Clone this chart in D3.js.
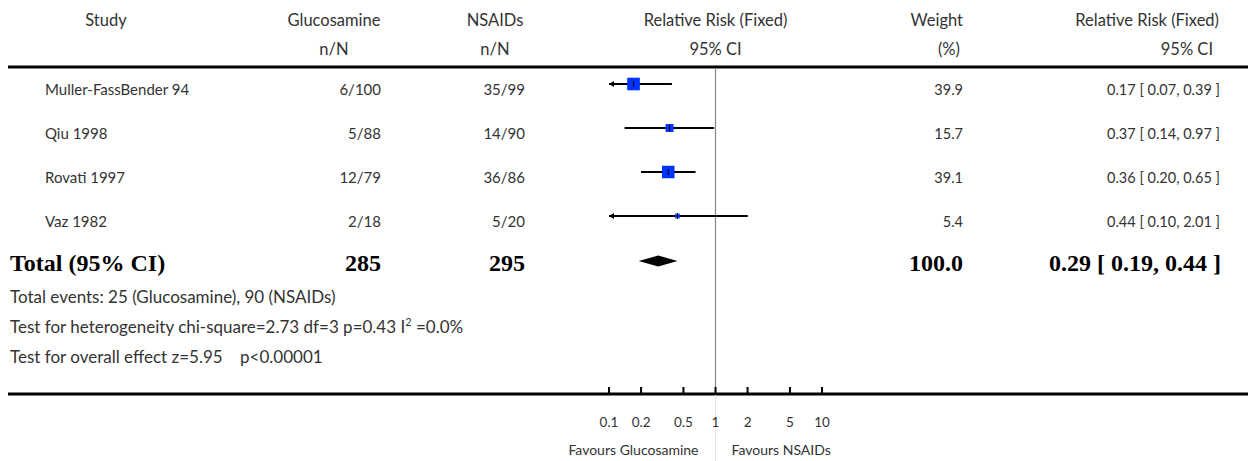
<!DOCTYPE html>
<html>
<head>
<meta charset="utf-8">
<script src="https://cdn.jsdelivr.net/npm/d3@7"></script>
<style>
  html, body { margin: 0; padding: 0; background: #fff; }
  svg { display: block; }
  .txt { font-family: Lato, "Open Sans", sans-serif; fill: #333; white-space: pre; }
  .bold { font-family: "Liberation Serif", "Times New Roman", serif; font-weight: bold; fill: #000; white-space: pre; }
</style>
</head>
<body>
<svg id="chart" width="1248" height="461"></svg>
<script>
// Trials comparing glucosamine with NSAIDs
const studies      = ["Muller-FassBender 94", "Qiu 1998", "Rovati 1997", "Vaz 1982"];
const glucoEvents  = [6, 5, 12, 2];
const glucoTotal   = [100, 88, 79, 18];
const nsaidEvents  = [35, 14, 36, 5];
const nsaidTotal   = [99, 90, 86, 20];
const riskRatio    = [0.17, 0.37, 0.36, 0.44];
const ciLower      = [0.07, 0.14, 0.20, 0.10];
const ciUpper      = [0.39, 0.97, 0.65, 2.01];
const weights      = [39.9, 15.7, 39.1, 5.4];

// Pooled estimate
const pooledRR     = 0.29;
const pooledLower  = 0.19;
const pooledUpper  = 0.44;
const pooledWeight = 100.0;
const pooledGluco  = 285;
const pooledNsaid  = 295;

const axisTicks      = [0.1, 0.2, 0.5, 1, 2, 5, 10];
const axisTickLabels = ["0.1", "0.2", "0.5", "1", "2", "5", "10"];

const headerTop    = ["Study", "Glucosamine", "NSAIDs", "Relative Risk (Fixed)", "Weight", "Relative Risk (Fixed)"];
const headerBottom = ["", "n/N", "n/N", "95% CI", "(%)", "95% CI"];
const footerLines  = [
  "Total events: 25 (Glucosamine), 90 (NSAIDs)",
  "Test for heterogeneity chi-square=2.73 df=3 p=0.43 I",
  "Test for overall effect z=5.95    p<0.00001"
];

const svg = d3.select("#chart");

// Log scale for the relative risk plot
const x = d3.scaleLog().domain([0.1, 10]).range([609, 822]);
const [xMinV, xMaxV] = x.domain();
const side = d3.scaleSqrt().domain([0, 100]).range([0, 20]);

// Row positions
const rowBase = d3.scalePoint().domain(d3.range(studies.length)).range([95, 227]);
const markerOffset = -11;

// Column anchors
const colStudyName = 45;
const colGluco = 381, colNsaid = 525, colWeight = 963, colRR = 1220;

// Header
const hdrX = [106, 334, 495, x(1), 963, 1219];
const hdrAnchor = ["middle", "middle", "middle", "middle", "end", "end"];
const hdrX2 = [106, 334, 495, x(1), 960, 1213];
headerTop.forEach((t, i) => {
  svg.append("text").attr("class", "txt").attr("x", hdrX[i]).attr("y", 26)
    .attr("text-anchor", hdrAnchor[i]).style("font-size", "16.5px").text(t);
  if (headerBottom[i]) {
    svg.append("text").attr("class", "txt").attr("x", hdrX2[i]).attr("y", 55)
      .attr("text-anchor", hdrAnchor[i]).style("font-size", "16.5px").text(headerBottom[i]);
  }
});

// Rules
svg.append("line").attr("x1", 8).attr("x2", 1248).attr("y1", 67).attr("y2", 67)
  .attr("stroke", "#000").attr("stroke-width", 3);
svg.append("line").attr("x1", 8).attr("x2", 1248).attr("y1", 394).attr("y2", 394)
  .attr("stroke", "#000").attr("stroke-width", 3);

// Line of no effect
svg.append("line").attr("x1", x(1)).attr("x2", x(1)).attr("y1", 68).attr("y2", 393)
  .attr("stroke", "#888").attr("stroke-width", 1.2);
svg.append("line").attr("x1", x(1)).attr("x2", x(1)).attr("y1", 395).attr("y2", 461)
  .attr("stroke", "#e6e6e6").attr("stroke-width", 1);

const fmt2 = d3.format(".2f");
const fmt1 = d3.format(".1f");

// Study rows
studies.forEach((s, i) => {
  const yb = rowBase(i);
  const ym = yb + markerOffset;
  svg.append("text").attr("class", "txt").attr("x", colStudyName).attr("y", yb)
    .style("font-size", "15px").text(s);
  svg.append("text").attr("class", "txt").attr("x", colGluco).attr("y", yb)
    .attr("text-anchor", "end").style("font-size", "15px").text(glucoEvents[i] + "/" + glucoTotal[i]);
  svg.append("text").attr("class", "txt").attr("x", colNsaid).attr("y", yb)
    .attr("text-anchor", "end").style("font-size", "15px").text(nsaidEvents[i] + "/" + nsaidTotal[i]);
  svg.append("text").attr("class", "txt").attr("x", colWeight).attr("y", yb)
    .attr("text-anchor", "end").style("font-size", "14.5px").text(fmt1(weights[i]));
  svg.append("text").attr("class", "txt").attr("x", colRR).attr("y", yb)
    .attr("text-anchor", "end").style("font-size", "14.5px")
    .text(fmt2(riskRatio[i]) + " [ " + fmt2(ciLower[i]) + ", " + fmt2(ciUpper[i]) + " ]");

  // Confidence interval, clipped to the axis range with arrows
  const lo = Math.max(ciLower[i], xMinV), hi = Math.min(ciUpper[i], xMaxV);
  svg.append("line").attr("x1", x(lo)).attr("x2", x(hi)).attr("y1", ym).attr("y2", ym)
    .attr("stroke", "#000").attr("stroke-width", 2);
  if (ciLower[i] <= xMinV) {
    const ax = x(xMinV);
    svg.append("path").attr("d", `M${ax},${ym} L${ax + 5},${ym - 3} L${ax + 5},${ym + 3} Z`).attr("fill", "#000");
  }
  if (ciUpper[i] > xMaxV) {
    const ax = x(xMaxV);
    svg.append("path").attr("d", `M${ax},${ym} L${ax - 5},${ym - 3} L${ax - 5},${ym + 3} Z`).attr("fill", "#000");
  }
  const sz = side(weights[i]);
  svg.append("rect").attr("x", x(riskRatio[i]) - sz / 2).attr("y", ym - sz / 2)
    .attr("width", sz).attr("height", sz).attr("fill", "#0033ff");
  svg.append("line").attr("x1", x(riskRatio[i])).attr("x2", x(riskRatio[i]))
    .attr("y1", ym - 3).attr("y2", ym + 3).attr("stroke", "#000").attr("stroke-width", 1);
});

// Pooled row
const totBase = 271, totMid = 261;
const boldSize = "24px";
svg.append("text").attr("class", "bold").attr("x", 10).attr("y", totBase)
  .style("font-size", boldSize).text("Total (95% CI)");
svg.append("text").attr("class", "bold").attr("x", colGluco).attr("y", totBase)
  .attr("text-anchor", "end").style("font-size", boldSize).text(pooledGluco);
svg.append("text").attr("class", "bold").attr("x", colNsaid).attr("y", totBase)
  .attr("text-anchor", "end").style("font-size", boldSize).text(pooledNsaid);
svg.append("text").attr("class", "bold").attr("x", colWeight).attr("y", totBase)
  .attr("text-anchor", "end").style("font-size", boldSize).text(fmt1(pooledWeight));
svg.append("text").attr("class", "bold").attr("x", colRR + 1).attr("y", totBase)
  .attr("text-anchor", "end").style("font-size", boldSize)
  .text(fmt2(pooledRR) + " [ " + fmt2(pooledLower) + ", " + fmt2(pooledUpper) + " ]");
svg.append("path")
  .attr("d", `M${x(pooledLower)},${totMid} L${x(pooledRR)},${totMid - 5.5} L${x(pooledUpper)},${totMid} L${x(pooledRR)},${totMid + 5.5} Z`)
  .attr("fill", "#000");

// Footnotes
const footBase = [303, 333, 363];
footerLines.forEach((t, i) => {
  const el = svg.append("text").attr("class", "txt").attr("x", 10).attr("y", footBase[i])
    .style("font-size", "17px");
  el.append("tspan").text(t);
  if (i === 1) {
    el.append("tspan").attr("dy", -7).style("font-size", "11px").text("2");
    el.append("tspan").attr("dy", 7).text(" =0.0%");
  }
});

// Axis ticks and labels
const axis = svg.append("g");
axisTicks.forEach((v, i) => {
  axis.append("line").attr("x1", x(v)).attr("x2", x(v)).attr("y1", 387).attr("y2", 394)
    .attr("stroke", "#000").attr("stroke-width", 2);
  axis.append("text").attr("class", "txt").attr("x", x(v)).attr("y", 427)
    .attr("text-anchor", "middle").style("font-size", "13.5px").text(axisTickLabels[i]);
});
svg.append("text").attr("class", "txt").attr("x", x(1) - 17).attr("y", 455)
  .attr("text-anchor", "end").style("font-size", "14px").text("Favours Glucosamine");
svg.append("text").attr("class", "txt").attr("x", x(1) + 16).attr("y", 455)
  .attr("text-anchor", "start").style("font-size", "14px").text("Favours NSAIDs");
</script>
</body>
</html>
